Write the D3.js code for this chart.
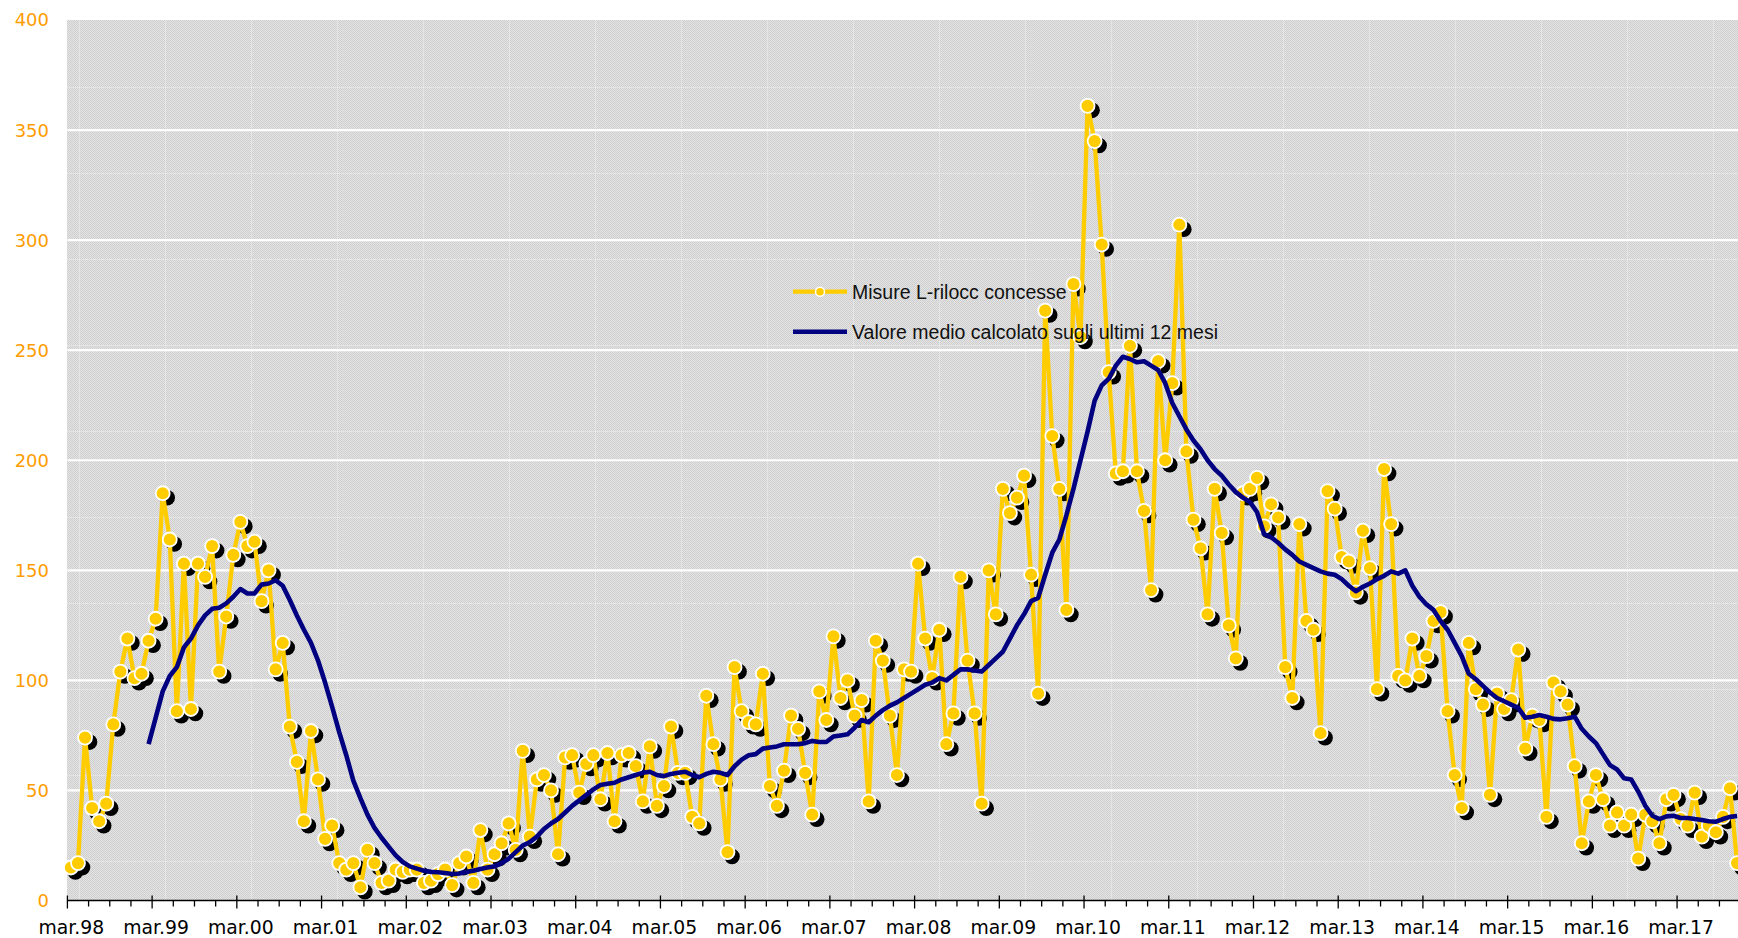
<!DOCTYPE html>
<html>
<head>
<meta charset="utf-8">
<script src="https://cdn.jsdelivr.net/npm/d3@7"></script>
<style>
    html, body { margin: 0; padding: 0; background: #fff; overflow: hidden; }
    svg { display: block; }
</style>
</head>
<body>
<svg id="chart" width="1738" height="938"></svg>
<script>
(function () {
    'use strict';

    // monthly series, first month = march 1998
    const startMonth = new Date(1998, 2, 1);

    const misure = [
        15, 17, 74, 42, 36, 44, 80, 104, 119, 101, 103, 118,
        128, 185, 164, 86, 153, 87, 153, 147, 161, 104, 129, 157,
        172, 161, 163, 136, 150, 105, 117, 79, 63, 36, 77, 55,
        28, 34, 17, 14, 17, 6, 23, 17, 8, 9, 14, 13,
        14, 14, 8, 9, 12, 14, 7, 17, 20, 8, 32, 14,
        21, 26, 35, 23, 68, 29, 55, 57, 50, 21, 65, 66,
        49, 62, 66, 46, 67, 36, 66, 67, 61, 45, 70, 43,
        52, 79, 58, 58, 38, 35, 93, 71, 55, 22, 106, 86,
        81, 80, 103, 52, 43, 59, 84, 78, 58, 39, 95, 82,
        120, 92, 100, 84, 91, 45, 118, 109, 84, 57, 105, 104,
        153, 119, 101, 123, 71, 85, 147, 109, 85, 44, 150, 130,
        187, 176, 183, 193, 148, 94, 268, 211, 187, 132, 280, 256,
        361, 345, 298, 240, 194, 195, 252, 195, 177, 141, 245, 200,
        235, 307, 204, 173, 160, 130, 187, 167, 125, 110, 185, 187,
        192, 170, 180, 174, 106, 92, 171, 127, 123, 76, 186, 178,
        156, 154, 140, 168, 151, 96, 196, 171, 102, 100, 119, 102,
        111, 127, 131, 86, 57, 42, 117, 96, 89, 48, 94, 87,
        91, 114, 69, 84, 82, 38, 99, 95, 89, 61, 26, 45,
        57, 46, 34, 40, 34, 39, 19, 39, 36, 26, 46, 48,
        37, 34, 49, 29, 34, 31, 38, 51, 17
    ];

    // 12 month average, starts at the 12th month (feb 1999)
    const mediaStart = 11;
    const media12 = [
        71,
        83, 95, 102, 106, 115, 119, 125, 129.5, 132.5, 133, 135, 138,
        141.5, 139.5, 139.5, 143.5, 144, 145.5, 143, 136.5, 129.5, 123, 117, 109,
        99, 88, 76.5, 66, 54.5, 46.5, 39, 33, 28.5, 24.5, 20.5, 17.5,
        15.5, 14.5, 13.5, 13, 12.8, 12.5, 12, 12.3, 13, 13.5, 14.3, 15,
        15.5, 17, 19, 22, 25, 26.5, 29, 32.5, 35, 37, 40, 43,
        45.5, 48, 50.5, 52.5, 53, 53.5, 55, 56, 57, 58, 58.5, 57,
        56.5, 57.5, 58, 58.5, 57, 56, 57.5, 58.5, 58, 57, 61, 64,
        66, 66.5, 69, 69.5, 70, 71, 71, 71, 71.5, 72.5, 72, 72,
        74.5, 75, 75.5, 78.5, 82, 81, 84, 86.5, 88.5, 90, 92, 94,
        96, 98, 99, 101, 100, 102.5, 105, 105, 104.5, 104, 107, 110,
        113, 119, 125, 130, 136, 137.5, 148, 158, 164, 175, 187, 200,
        213, 227, 234, 237, 243, 247, 246, 244.5, 245, 243, 241, 235,
        226, 220, 214, 209, 205, 200, 196, 193, 189, 185.5, 183, 181,
        176.5, 166.5, 165, 162.5, 159.5, 157, 154, 152.5, 151, 149.5, 148.5, 148,
        146, 143, 140.5, 142.5, 144, 146, 147.5, 149.5, 148.5, 150, 143, 138,
        134.5, 132, 127, 123, 117, 111, 103, 100.5, 97.5, 94.5, 92, 90.5,
        89, 87.5, 83, 83.5, 84.3, 83.5, 82.5, 82.3, 82.8, 83.5, 78, 74.5,
        71.5, 66.5, 61.5, 59.5, 55.5, 55, 49.5, 43, 38.5, 37, 38.2, 38.5,
        37.5, 37.5, 37, 36.6, 36, 35.8, 37, 38, 38.4
    ];

    const yTicks = [0, 50, 100, 150, 200, 250, 300, 350, 400];
    const tickLabels = ["mar.98", "mar.99", "mar.00", "mar.01", "mar.02", "mar.03", "mar.04",
        "mar.05", "mar.06", "mar.07", "mar.08", "mar.09", "mar.10", "mar.11", "mar.12",
        "mar.13", "mar.14", "mar.15", "mar.16", "mar.17"];
    const legendLabels = ["Misure L-rilocc concesse", "Valore medio calcolato sugli ultimi 12 mesi"];

    const width = 1738;
    const plotLeft = 67.4, plotTop = 20, plotBottom = 900.5;
    const monthW = 7.06;
    const yellow = "#ffcc00", navy = "#000080", orange = "#ff9c00";

    const months = d3.timeMonth.range(startMonth, d3.timeMonth.offset(startMonth, misure.length));
    const data = misure.map((v, i) => ({i: i, date: months[i], v: v}));
    const media = media12.map((v, k) => ({i: k + mediaStart, v: v}));

    const x = d3.scaleLinear()
        .domain([0, misure.length])
        .range([plotLeft, plotLeft + misure.length * monthW]);
    const xc = i => x(i + 0.5);
    const y = d3.scaleLinear().domain([0, 400]).range([plotBottom, plotTop]);

    const svg = d3.select("#chart");
    const defs = svg.append("defs");

    // grey dithered texture like the excel fill
    const dither = defs.append("pattern")
        .attr("id", "dither")
        .attr("patternUnits", "userSpaceOnUse")
        .attr("width", 2).attr("height", 2);
    dither.append("rect").attr("width", 2).attr("height", 2).attr("fill", "#e4e4e4");
    dither.append("rect").attr("width", 1).attr("height", 1).attr("fill", "#cecece");
    dither.append("rect").attr("x", 1).attr("y", 1).attr("width", 1).attr("height", 1).attr("fill", "#cecece");

    const seams = defs.append("pattern")
        .attr("id", "seams")
        .attr("patternUnits", "userSpaceOnUse")
        .attr("x", 79).attr("y", 87)
        .attr("width", 86).attr("height", 86);
    seams.append("path")
        .attr("d", "M0.5,0V86M0,0.5H86")
        .attr("stroke", "rgba(255,255,255,0.45)")
        .attr("stroke-dasharray", "1,1")
        .attr("fill", "none");

    const plotW = width - plotLeft;
    svg.append("rect")
        .attr("x", plotLeft).attr("y", plotTop)
        .attr("width", plotW).attr("height", plotBottom - plotTop)
        .attr("fill", "url(#dither)")
        .attr("shape-rendering", "crispEdges");
    svg.append("rect")
        .attr("x", plotLeft).attr("y", plotTop)
        .attr("width", plotW).attr("height", plotBottom - plotTop)
        .attr("fill", "url(#seams)")
        .attr("shape-rendering", "crispEdges");

    // white gridlines
    svg.append("g")
        .selectAll("line")
        .data(yTicks.filter(d => d > 0 && d < 400))
        .join("line")
        .attr("x1", plotLeft).attr("x2", width)
        .attr("y1", d => y(d)).attr("y2", d => y(d))
        .attr("stroke", "#fff")
        .attr("stroke-width", 2.2);

    // y labels
    svg.append("g")
        .selectAll("text")
        .data(yTicks)
        .join("text")
        .attr("x", 49)
        .attr("y", d => y(d))
        .attr("dy", "0.36em")
        .attr("text-anchor", "end")
        .attr("fill", orange)
        .style("font", "18px 'DejaVu Sans', Verdana, sans-serif")
        .text(d => d);

    // x axis
    const axis = svg.append("g").attr("stroke", "#000").attr("stroke-width", 1.3);
    axis.append("line")
        .attr("x1", plotLeft).attr("x2", width)
        .attr("y1", plotBottom).attr("y2", plotBottom);
    axis.selectAll("line.tick")
        .data(d3.range(0, misure.length, 3))
        .join("line")
        .attr("class", "tick")
        .attr("x1", d => x(d)).attr("x2", d => x(d))
        .attr("y1", d => d % 12 === 0 ? plotBottom - 5 : plotBottom)
        .attr("y2", d => d % 12 === 0 ? plotBottom + 8 : plotBottom + 6);

    svg.append("g")
        .selectAll("text")
        .data(tickLabels)
        .join("text")
        .attr("x", (d, k) => x(k * 12) + 4)
        .attr("y", 934)
        .attr("text-anchor", "middle")
        .attr("fill", "#000")
        .style("font", "18.8px 'DejaVu Sans', Verdana, sans-serif")
        .text(d => d);

    // yellow series: shadows, line, markers
    const series = svg.append("g");
    series.append("g")
        .selectAll("circle")
        .data(data)
        .join("circle")
        .attr("cx", d => xc(d.i) + 4.5)
        .attr("cy", d => y(d.v) + 4.5)
        .attr("r", 7.8)
        .attr("fill", "#000");

    const lineY = d3.line()
        .x(d => xc(d.i))
        .y(d => y(d.v));
    series.append("path")
        .datum(data)
        .attr("d", lineY)
        .attr("fill", "none")
        .attr("stroke", yellow)
        .attr("stroke-width", 4.3)
        .attr("stroke-linejoin", "round");

    series.append("g")
        .selectAll("circle")
        .data(data)
        .join("circle")
        .attr("cx", d => xc(d.i))
        .attr("cy", d => y(d.v))
        .attr("r", 7)
        .attr("fill", yellow)
        .attr("stroke", "#fff")
        .attr("stroke-width", 1.8);

    // 12 month average
    svg.append("path")
        .datum(media)
        .attr("d", lineY)
        .attr("fill", "none")
        .attr("stroke", navy)
        .attr("stroke-width", 4.6)
        .attr("stroke-linejoin", "round");

    // legend, drawn over the series like in the original
    const legend = svg.append("g").attr("transform", "translate(793,0)");
    const legY = [291.7, 331.7];
    legend.append("line")
        .attr("x1", 0).attr("x2", 54).attr("y1", legY[0]).attr("y2", legY[0])
        .attr("stroke", yellow).attr("stroke-width", 4.3);
    legend.append("circle")
        .attr("cx", 27).attr("cy", legY[0]).attr("r", 4.5)
        .attr("fill", yellow).attr("stroke", "#fff").attr("stroke-width", 1.5);
    legend.append("line")
        .attr("x1", 0).attr("x2", 54).attr("y1", legY[1]).attr("y2", legY[1])
        .attr("stroke", navy).attr("stroke-width", 4.6);
    legend.selectAll("text")
        .data(legendLabels)
        .join("text")
        .attr("x", 59)
        .attr("y", (d, k) => legY[k])
        .attr("dy", "0.35em")
        .attr("fill", "#111")
        .style("font", "19.5px 'Liberation Sans', Arial, sans-serif")
        .text(d => d);
}());
</script>
</body>
</html>
